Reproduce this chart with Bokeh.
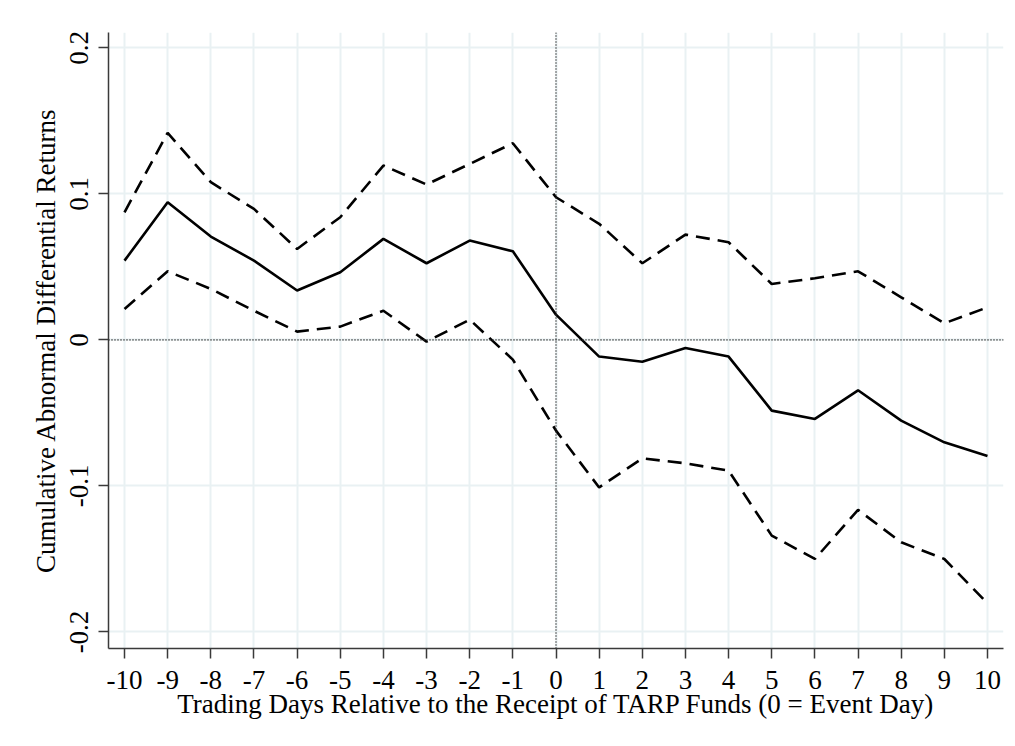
from bokeh.plotting import figure
from bokeh.models import FixedTicker, Span, ColumnDataSource
from bokeh.embed import file_html
from bokeh.resources import INLINE

# ---- data ----
days = list(range(-10, 11))
car = [0.0543, 0.0942, 0.0708, 0.0543, 0.0338, 0.0463, 0.0692, 0.0525, 0.0680, 0.0607,
       0.0173, -0.0114, -0.0149, -0.0055, -0.0114, -0.0484, -0.0541, -0.0345, -0.0553, -0.0701, -0.0795]
upper = [0.0874, 0.1418, 0.1080, 0.0897, 0.0623, 0.0840, 0.1194, 0.1064, 0.1205, 0.1347,
         0.0977, 0.0795, 0.0525, 0.0721, 0.0669, 0.0383, 0.0422, 0.0470, 0.0292, 0.0114, 0.0223]
lower = [0.0212, 0.0470, 0.0349, 0.0200, 0.0057, 0.0091, 0.0200, -0.0012, 0.0139, -0.0135,
         -0.0621, -0.1010, -0.0811, -0.0845, -0.0895, -0.1340, -0.1500, -0.1164, -0.1386, -0.1500, -0.1804]
x_ticks = list(range(-10, 11))
x_tick_labels = [str(t) for t in x_ticks]
y_ticks = [-0.2, -0.1, 0.0, 0.1, 0.2]
y_tick_labels = ["-0.2", "-0.1", "0", "0.1", "0.2"]
x_title = "Trading Days Relative to the Receipt of TARP Funds (0 = Event Day)"
y_title = "Cumulative Abnormal Differential Returns"

src = ColumnDataSource(dict(day=days, car=car, upper=upper, lower=lower))

FONT = "Liberation Serif"
GRID = "#E9F1F3"
AX = "#3a3a3a"

p = figure(width=1010, height=740, output_backend="svg", toolbar_location=None,
           x_range=(-10.371, 10.371), y_range=(-0.2113, 0.2105),
           min_border_left=108, min_border_right=7, min_border_top=32, min_border_bottom=92)
p.outline_line_color = None
p.background_fill_color = "white"
p.border_fill_color = "white"

# grid
p.xgrid.grid_line_color = GRID
p.xgrid.grid_line_width = 2
p.ygrid.grid_line_color = GRID
p.ygrid.grid_line_width = 2

# axes
p.xaxis.ticker = FixedTicker(ticks=x_ticks)
p.yaxis.ticker = FixedTicker(ticks=y_ticks)
p.xaxis.major_label_overrides = {t: l for t, l in zip(x_ticks, x_tick_labels)}
p.yaxis.major_label_overrides = {t: l for t, l in zip(y_ticks, y_tick_labels)}
p.yaxis.major_label_orientation = "vertical"
for ax in (p.xaxis, p.yaxis):
    ax.axis_line_color = AX
    ax.axis_line_width = 1.5
    ax.major_tick_line_color = AX
    ax.major_tick_line_width = 1.5
    ax.major_tick_out = 10
    ax.major_tick_in = 0
    ax.minor_tick_line_color = None
    ax.major_label_text_font = FONT
    ax.major_label_text_font_size = "27px"
    ax.major_label_text_color = "black"
    ax.axis_label_text_font = FONT
    ax.axis_label_text_font_size = "27px"
    ax.axis_label_text_font_style = "normal"
    ax.axis_label_text_color = "black"
p.xaxis.axis_label = x_title
p.yaxis.axis_label = y_title
p.xaxis.major_label_standoff = 12
p.xaxis.axis_label_standoff = -3
p.yaxis.major_label_standoff = 10
p.yaxis.axis_label_standoff = 7

# reference lines
p.add_layout(Span(location=0, dimension="width", line_color="#333333",
                  line_width=1.6, line_dash="1 2"))
p.add_layout(Span(location=0, dimension="height", line_color="#333333",
                  line_width=1.6, line_dash="1 2"))

# series
p.line("day", "upper", source=src, line_color="black", line_width=2.6, line_dash="14 8")
p.line("day", "lower", source=src, line_color="black", line_width=2.6, line_dash="14 8")
p.line("day", "car", source=src, line_color="black", line_width=2.6)

open("out.html", "w").write(file_html(p, INLINE))
